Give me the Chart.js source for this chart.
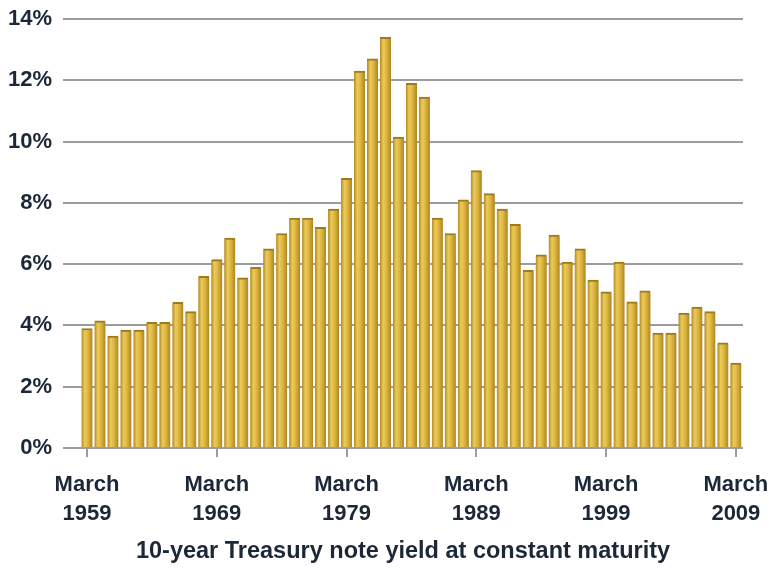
<!DOCTYPE html>
<html>
<head>
<meta charset="utf-8">
<script src="https://cdn.jsdelivr.net/npm/chart.js@4.4.1/dist/chart.umd.min.js"></script>
<style>
  html, body { margin: 0; padding: 0; background: #fff; }
  #wrap { width: 770px; height: 571px; position: relative; }
</style>
</head>
<body>
<div id="wrap"><canvas id="yieldChart"></canvas></div>
<script>
// March readings, 1959 - 2009
const years = [
  1959, 1960, 1961, 1962, 1963, 1964, 1965, 1966, 1967, 1968,
  1969, 1970, 1971, 1972, 1973, 1974, 1975, 1976, 1977, 1978,
  1979, 1980, 1981, 1982, 1983, 1984, 1985, 1986, 1987, 1988,
  1989, 1990, 1991, 1992, 1993, 1994, 1995, 1996, 1997, 1998,
  1999, 2000, 2001, 2002, 2003, 2004, 2005, 2006, 2007, 2008, 2009
];

const yields = [
  3.90, 4.15, 3.65, 3.85, 3.85, 4.10, 4.10, 4.75, 4.45, 5.60,
  6.15, 6.85, 5.55, 5.90, 6.50, 7.00, 7.50, 7.50, 7.20, 7.80,
  8.80, 12.30, 12.70, 13.40, 10.15, 11.90, 11.45, 7.50, 7.00, 8.10,
  9.05, 8.30, 7.80, 7.30, 5.80, 6.30, 6.95, 6.07, 6.50, 5.48,
  5.10, 6.07, 4.77, 5.13, 3.75, 3.75, 4.40, 4.60, 4.45, 3.43, 2.77
];

const labelYears = [1959, 1969, 1979, 1989, 1999, 2009];
const yTicks = [0, 2, 4, 6, 8, 10, 12, 14];

const textColor = "#1c2838";
const gridColor = "#9c9c9c";
const font = "'Liberation Sans', Arial, sans-serif";

const barFill = (ctx) => {
  const chart = ctx.chart;
  const xs = chart.scales && chart.scales.x;
  if (!xs || ctx.type !== "data") return "#d6ad3a";
  const cx = xs.getPixelForValue(ctx.raw.x);
  if (!isFinite(cx)) return "#d6ad3a";
  const g = chart.ctx.createLinearGradient(cx - 5.5, 0, cx + 5.5, 0);
  g.addColorStop(0, "#b28a22");
  g.addColorStop(0.3, "#eccb58");
  g.addColorStop(0.6, "#dcb440");
  g.addColorStop(1, "#ae8520");
  return g;
};

new Chart(document.getElementById("yieldChart"), {
  type: "bar",
  data: {
    datasets: [
      {
        label: "10-year Treasury note yield",
        data: years.map((y, i) => ({ x: y, y: yields[i] })),
        backgroundColor: barFill,
        borderColor: "#9c7a1e",
        borderWidth: { top: 2, left: 0, right: 0, bottom: 0 },
        borderSkipped: "bottom",
        barThickness: 11,
      },
    ],
  },
  options: {
    responsive: true,
    maintainAspectRatio: false,
    animation: false,
    layout: { padding: { top: 19, right: 27, bottom: 0, left: 0 } },
    plugins: {
      legend: { display: false },
      tooltip: { enabled: false },
    },
    scales: {
      x: {
        type: "linear",
        min: 1957.15,
        max: 2009.55,
        offset: false,
        afterBuildTicks: (scale) => {
          scale.ticks = labelYears.map((v) => ({ value: v }));
        },
        afterFit: (scale) => {
          scale.height = 123;
          scale.paddingLeft = 0;
          scale.paddingRight = 0;
        },
        ticks: {
          autoSkip: false,
          maxRotation: 0,
          padding: 14,
          color: textColor,
          font: { family: font, size: 22, weight: "bold", lineHeight: 1.3 },
          callback: (v) => ["March", String(v)],
        },
        grid: {
          offset: false,
          drawOnChartArea: false,
          drawTicks: true,
          tickLength: 9,
          color: gridColor,
          lineWidth: 2,
        },
        border: { display: false },
        title: {
          display: true,
          text: "10-year Treasury note yield at constant maturity",
          color: textColor,
          font: { family: font, size: 23.5, weight: "bold", lineHeight: 1.2 },
          padding: { top: 0, bottom: 5 },
        },
      },
      y: {
        min: 0,
        max: 14,
        afterBuildTicks: (scale) => {
          scale.ticks = yTicks.map((v) => ({ value: v }));
        },
        afterFit: (scale) => {
          scale.width = 63;
          scale.paddingTop = 0;
          scale.paddingBottom = 0;
        },
        ticks: {
          padding: 11,
          color: textColor,
          font: { family: font, size: 22, weight: "bold" },
          callback: (v) => v + "%",
        },
        grid: {
          drawTicks: false,
          color: gridColor,
          lineWidth: 2,
        },
        border: { display: false },
      },
    },
  },
});
</script>
</body>
</html>
